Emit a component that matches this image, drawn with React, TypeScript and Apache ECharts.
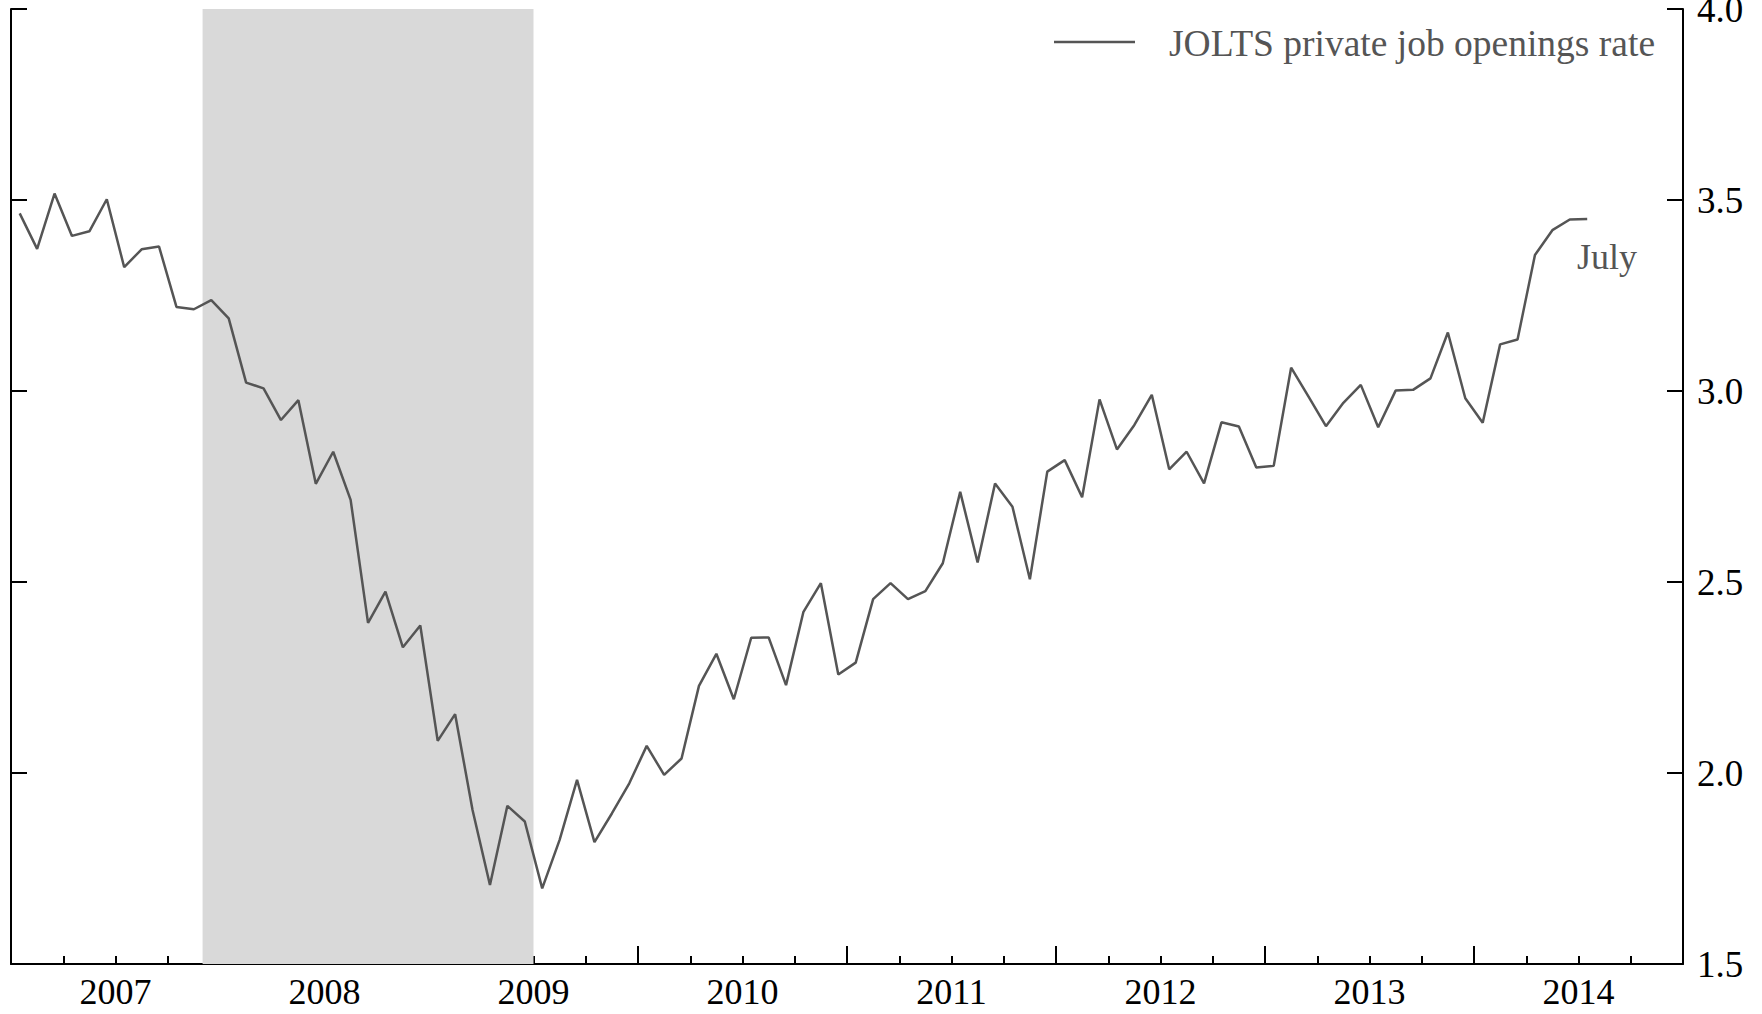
import React, { useEffect, useRef } from "react";
import * as echarts from "echarts";

// JOLTS private job openings rate, monthly, January 2007 – July 2014
const startYear = 2007;
const rate2007 = [3.465, 3.372, 3.517, 3.406, 3.418, 3.502, 3.324, 3.371, 3.378, 3.22, 3.214, 3.238];
const rate2008 = [3.19, 3.022, 3.007, 2.924, 2.976, 2.757, 2.841, 2.715, 2.393, 2.475, 2.329, 2.386];
const rate2009 = [2.084, 2.154, 1.903, 1.707, 1.914, 1.873, 1.698, 1.825, 1.982, 1.819, 1.894, 1.973];
const rate2010 = [2.071, 1.995, 2.038, 2.228, 2.312, 2.193, 2.354, 2.355, 2.23, 2.422, 2.497, 2.258];
const rate2011 = [2.289, 2.455, 2.497, 2.455, 2.476, 2.549, 2.736, 2.551, 2.758, 2.697, 2.507, 2.789];
const rate2012 = [2.819, 2.722, 2.978, 2.847, 2.911, 2.99, 2.795, 2.841, 2.758, 2.918, 2.907, 2.8];
const rate2013 = [2.804, 3.061, 2.985, 2.908, 2.969, 3.016, 2.905, 3.001, 3.003, 3.033, 3.153, 2.981];
const rate2014 = [2.917, 3.122, 3.135, 3.356, 3.421, 3.449, 3.45];

const yearLabels = ["2007", "2008", "2009", "2010", "2011", "2012", "2013", "2014"];
const yTicks = [1.5, 2.0, 2.5, 3.0, 3.5, 4.0];

// Recession (shaded): December 2007 through June 2009
const recessionStart = "2007-12";
const recessionEnd = "2009-06";

const seriesName = "JOLTS private job openings rate";
const endNote = "July";

const FONT = "'Liberation Serif', 'Times New Roman', serif";

function monthIndex(ym: string): number {
  const [y, m] = ym.split("-").map(Number);
  return (y - startYear) * 12 + (m - 1);
}

export default function App() {
  const ref = useRef<HTMLDivElement>(null);

  useEffect(() => {
    if (!ref.current) return;
    const chart = echarts.init(ref.current, undefined, { renderer: "svg" });

    const allRates = [
      ...rate2007, ...rate2008, ...rate2009, ...rate2010,
      ...rate2011, ...rate2012, ...rate2013, ...rate2014,
    ];
    const data = allRates.map((v, i) => [i + 0.5, v]);
    const nMonths = yearLabels.length * 12;

    const axisLineStyle = { color: "#000", width: 2 };

    chart.setOption({
      animation: false,
      grid: {
        left: 11,
        right: 79,
        top: 9,
        bottom: 50,
        containLabel: false,
        outerBoundsMode: "none",
      },
      xAxis: [
        {
          type: "value",
          min: 0,
          max: nMonths,
          interval: 12,
          axisLine: { show: true, onZero: false, lineStyle: axisLineStyle },
          axisTick: { show: true, inside: true, length: 18, lineStyle: axisLineStyle },
          minorTick: { show: true, splitNumber: 4, length: 8, lineStyle: axisLineStyle },
          axisLabel: { show: false },
          splitLine: { show: false },
          minorSplitLine: { show: false },
        },
        {
          type: "value",
          min: 0,
          max: nMonths,
          interval: 6,
          position: "bottom",
          axisLine: { show: false },
          axisTick: { show: false },
          splitLine: { show: false },
          axisLabel: {
            show: true,
            margin: 10,
            fontFamily: FONT,
            fontSize: 36,
            color: "#000",
            formatter: (v: number) =>
              v % 12 === 6 ? yearLabels[(v - 6) / 12] ?? "" : "",
          },
        },
      ],
      yAxis: [
        {
          type: "value",
          position: "right",
          min: yTicks[0],
          max: yTicks[yTicks.length - 1],
          interval: 0.5,
          axisLine: { show: true, onZero: false, lineStyle: axisLineStyle },
          axisTick: { show: true, inside: true, length: 16, lineStyle: axisLineStyle },
          axisLabel: {
            show: true,
            margin: 14,
            fontFamily: FONT,
            fontSize: 37,
            color: "#000",
            formatter: (v: number) => v.toFixed(1),
          },
          splitLine: { show: false },
        },
        {
          type: "value",
          position: "left",
          min: yTicks[0],
          max: yTicks[yTicks.length - 1],
          interval: 0.5,
          axisLine: { show: true, onZero: false, lineStyle: axisLineStyle },
          axisTick: { show: true, inside: true, length: 16, lineStyle: axisLineStyle },
          axisLabel: { show: false },
          splitLine: { show: false },
        },
      ],
      series: [
        {
          name: "recession",
          type: "line",
          xAxisIndex: 0,
          yAxisIndex: 0,
          data: [],
          z: 1,
          silent: true,
          markArea: {
            silent: true,
            itemStyle: { color: "#d9d9d9" },
            data: [[{ xAxis: monthIndex(recessionStart) }, { xAxis: monthIndex(recessionEnd) + 1 }]],
          },
        },
        {
          name: seriesName,
          type: "line",
          xAxisIndex: 0,
          yAxisIndex: 0,
          data,
          symbol: "none",
          z: 3,
          lineStyle: { color: "#555", width: 2.5 },
        },
      ],
      graphic: [
        {
          type: "line",
          shape: { x1: 1054, y1: 42, x2: 1135, y2: 42 },
          style: { stroke: "#555", lineWidth: 2.5 },
        },
        {
          type: "text",
          x: 1169,
          y: 43,
          style: {
            text: seriesName,
            font: `37.5px ${FONT}`,
            fill: "#555",
            verticalAlign: "middle",
            align: "left",
          },
        },
        {
          type: "text",
          x: 1607,
          y: 257,
          style: {
            text: endNote,
            font: `36px ${FONT}`,
            fill: "#555",
            verticalAlign: "middle",
            align: "center",
          },
        },
      ],
    });

    return () => chart.dispose();
  }, []);

  return (
    <div
      ref={ref}
      style={{ position: "absolute", left: 0, top: 0, width: 1762, height: 1014 }}
    />
  );
}
